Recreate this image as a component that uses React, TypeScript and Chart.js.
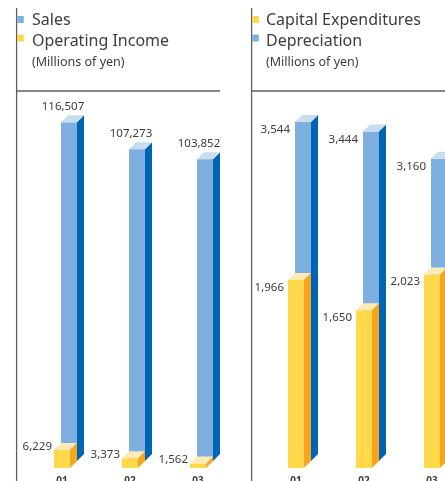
import React, { useEffect, useRef } from "react";
import { Chart, registerables } from "chart.js";

Chart.register(...registerables);

// ---- data ----
const years = ["01", "02", "03"];
const sales = [116507, 107273, 103852];
const operatingIncome = [6229, 3373, 1562];
const capitalExpenditures = [1966, 1650, 2023];
const depreciation = [3544, 3444, 3160];

const leftSeriesNames = ["Sales", "Operating Income"];
const rightSeriesNames = ["Capital Expenditures", "Depreciation"];
const unitLabel = "(Millions of yen)";

// ---- styles ----
const BLUE = { front: "#7DB0E0", side: "#0064B4", top: "#C8DCF2" };
const YELLOW = { front: "#FFD84C", side: "#F7A51F", top: "#FEEAB3" };
const TEXT = "#3d3d3d";
const LINE = "#5f5f5f";
const DEPTH = 7;
const FONT = "'Noto Sans', sans-serif";

function fmt(v: number) {
  return v.toLocaleString("en-US");
}

function drawBox(ctx: CanvasRenderingContext2D, xL: number, xR: number, yTop: number, yBase: number, c: any) {
  const d = DEPTH;
  ctx.fillStyle = c.front;
  ctx.fillRect(xL, yTop, xR - xL, yBase - yTop);
  ctx.fillStyle = c.side;
  ctx.beginPath();
  ctx.moveTo(xR, yTop);
  ctx.lineTo(xR + d, yTop - d);
  ctx.lineTo(xR + d, yBase - d);
  ctx.lineTo(xR, yBase);
  ctx.closePath();
  ctx.fill();
  ctx.fillStyle = c.top;
  ctx.beginPath();
  ctx.moveTo(xL, yTop);
  ctx.lineTo(xL + d, yTop - d);
  ctx.lineTo(xR + d, yTop - d);
  ctx.lineTo(xR, yTop);
  ctx.closePath();
  ctx.fill();
}

const boxes3d = {
  id: "boxes3d",
  afterDatasetsDraw(chart: any, _args: any, opts: any) {
    const ctx: CanvasRenderingContext2D = chart.ctx;
    ctx.save();
    const backMeta = chart.getDatasetMeta(opts.back);
    const frontMeta = chart.getDatasetMeta(opts.front);
    const backVals = chart.data.datasets[opts.back].data;
    const frontVals = chart.data.datasets[opts.front].data;
    backMeta.data.forEach((el: any) => {
      const p = el.getProps(["x", "y", "base", "width"], true);
      drawBox(ctx, p.x - p.width / 2 + DEPTH, p.x + p.width / 2 + DEPTH, p.y - DEPTH, p.base - DEPTH, opts.backColors);
    });
    frontMeta.data.forEach((el: any) => {
      const p = el.getProps(["x", "y", "base", "width"], true);
      drawBox(ctx, p.x - p.width / 2, p.x + p.width / 2, p.y, p.base, opts.frontColors);
    });
    ctx.fillStyle = TEXT;
    ctx.font = `11.5px ${FONT}`;
    ctx.textBaseline = "alphabetic";
    backMeta.data.forEach((el: any, i: number) => {
      const p = el.getProps(["x", "y", "base", "width"], true);
      const txt = fmt(backVals[i]);
      if (opts.mode === "left") {
        ctx.textAlign = "center";
        ctx.fillText(txt, p.x + 1, p.y - DEPTH - 12.5);
      } else {
        ctx.textAlign = "right";
        ctx.fillText(txt, p.x - p.width / 2 + DEPTH - 5, p.y - DEPTH + 11);
      }
    });
    frontMeta.data.forEach((el: any, i: number) => {
      const p = el.getProps(["x", "y", "base", "width"], true);
      const txt = fmt(frontVals[i]);
      ctx.textAlign = "right";
      if (opts.mode === "left") {
        ctx.fillText(txt, p.x - p.width / 2 - 2, p.y);
      } else {
        ctx.fillText(txt, p.x - p.width / 2 - 4, p.y + 11);
      }
    });
    ctx.restore();
  },
};

const panelChrome = {
  id: "panelChrome",
  afterDraw(chart: any, _args: any, opts: any) {
    const ctx: CanvasRenderingContext2D = chart.ctx;
    ctx.save();
    ctx.strokeStyle = LINE;
    ctx.lineWidth = 1.3;
    ctx.beginPath();
    ctx.moveTo(16.6, 8);
    ctx.lineTo(16.6, chart.height);
    ctx.stroke();
    ctx.beginPath();
    ctx.moveTo(16, 91);
    ctx.lineTo(opts.hLineEnd, 91);
    ctx.stroke();
    // legend
    const items = opts.items;
    const squareTops = [16, 34.5];
    const baselines = [25, 45.5];
    items.forEach((it: any, i: number) => {
      ctx.fillStyle = it.color;
      ctx.fillRect(17.3, squareTops[i], 6.5, 7);
      ctx.fillStyle = TEXT;
      ctx.font = `16px ${FONT}`;
      ctx.textAlign = "left";
      ctx.textBaseline = "alphabetic";
      ctx.fillText(it.text, opts.textX, baselines[i]);
    });
    ctx.font = `12.5px ${FONT}`;
    ctx.fillText(unitLabel, opts.textX, 65.5);
    ctx.restore();
  },
};

function makeConfig(backName: string, backData: number[], frontName: string, frontData: number[], max: number, panel: any) {
  return {
    type: "bar",
    data: {
      labels: years,
      datasets: [
        { label: backName, data: backData, backgroundColor: "rgba(0,0,0,0)", barThickness: 16, grouped: false },
        { label: frontName, data: frontData, backgroundColor: "rgba(0,0,0,0)", barThickness: 16, grouped: false },
      ],
    },
    options: {
      responsive: false,
      maintainAspectRatio: false,
      animation: false,
      layout: { padding: { top: 91, left: panel.padLeft, right: panel.padRight, bottom: 0 } },
      scales: {
        x: {
          grid: { display: false, drawTicks: false },
          border: { display: false },
          ticks: { padding: 7, color: TEXT, font: { family: FONT, size: 10, weight: "bold" } },
        },
        y: { display: false, min: 0, max },
      },
      plugins: {
        legend: { display: false },
        tooltip: { enabled: false },
        boxes3d: { back: 0, front: 1, mode: panel.mode, backColors: BLUE, frontColors: YELLOW },
        panelChrome: { items: panel.items, textX: panel.textX, hLineEnd: panel.hLineEnd },
      },
    },
    plugins: [boxes3d, panelChrome],
  } as any;
}

const CW = 235;
const CH = 494;

export default function App() {
  const leftRef = useRef<HTMLCanvasElement>(null);
  const rightRef = useRef<HTMLCanvasElement>(null);

  useEffect(() => {
    const left = new Chart(
      leftRef.current!,
      makeConfig(leftSeriesNames[0], sales, leftSeriesNames[1], operatingIncome, 129700, {
        padLeft: 28,
        padRight: 3,
        mode: "left",
        textX: 32,
        hLineEnd: 220,
        items: [
          { text: leftSeriesNames[0], color: BLUE.front },
          { text: leftSeriesNames[1], color: YELLOW.front },
        ],
      })
    );
    const right = new Chart(
      rightRef.current!,
      makeConfig(rightSeriesNames[1], depreciation, rightSeriesNames[0], capitalExpenditures, 3941, {
        padLeft: 27,
        padRight: 4,
        mode: "right",
        textX: 31,
        hLineEnd: CW,
        items: [
          { text: rightSeriesNames[0], color: YELLOW.front },
          { text: rightSeriesNames[1], color: BLUE.front },
        ],
      })
    );
    return () => {
      left.destroy();
      right.destroy();
    };
  }, []);

  return (
    <div
      style={{
        position: "fixed",
        left: 0,
        top: 0,
        width: 445,
        height: 481,
        overflow: "hidden",
        background: "#fff",
      }}
    >
      <canvas
        ref={leftRef}
        width={CW}
        height={CH}
        style={{ position: "absolute", left: 0, top: 0, width: CW, height: CH }}
      />
      <canvas
        ref={rightRef}
        width={CW}
        height={CH}
        style={{ position: "absolute", left: 235, top: 0, width: CW, height: CH }}
      />
    </div>
  );
}
